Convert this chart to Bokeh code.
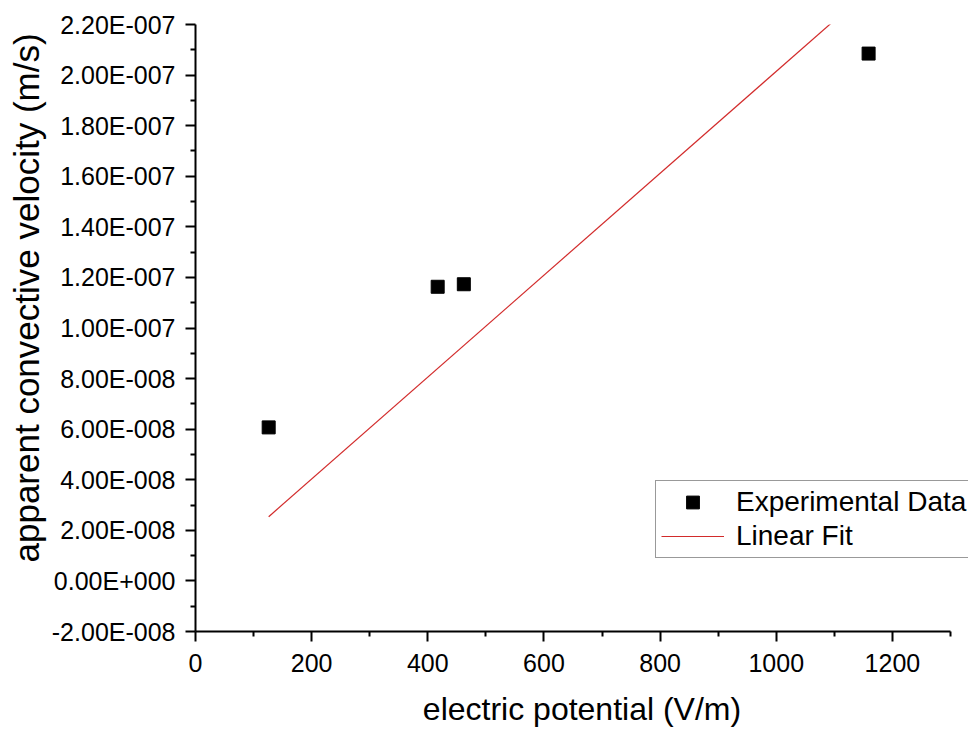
from bokeh.embed import file_html
from bokeh.models import (CustomJSTickFormatter, FixedTicker, Legend,
                          LegendItem, Range1d, Title)
from bokeh.plotting import figure
from bokeh.resources import INLINE

# Measured points: electric potential (V/m) vs apparent convective velocity (m/s)
field_strength = [126, 417, 462, 1159]
velocity = [6.07e-8, 1.163e-7, 1.173e-7, 2.085e-7]

# Linear fit line (end points over the data span)
fit_x = [126, 1159]
fit_y = [2.54e-8, 2.335e-7]

# Axis ticks and labels
x_ticks = [0, 200, 400, 600, 800, 1000, 1200]
x_minor = [100, 300, 500, 700, 900, 1100, 1300]
y_ticks = [-2e-8, 0.0, 2e-8, 4e-8, 6e-8, 8e-8, 1e-7, 1.2e-7, 1.4e-7,
           1.6e-7, 1.8e-7, 2e-7, 2.2e-7]
y_tick_labels = ["-2.00E-008", "0.00E+000", "2.00E-008", "4.00E-008",
                 "6.00E-008", "8.00E-008", "1.00E-007", "1.20E-007",
                 "1.40E-007", "1.60E-007", "1.80E-007", "2.00E-007",
                 "2.20E-007"]
y_minor = [-1e-8, 1e-8, 3e-8, 5e-8, 7e-8, 9e-8, 1.1e-7, 1.3e-7, 1.5e-7,
           1.7e-7, 1.9e-7, 2.1e-7]

X_MIN, X_MAX = 0, 1300
Y_MIN, Y_MAX = -2e-8, 2.2e-7
FONT = "Liberation Sans"

# The frame runs to the right edge so the legend box may overhang the axis end;
# the x axis itself is bounded to 0..1300.
p = figure(width=968, height=729, output_backend="svg", toolbar_location=None,
           x_range=Range1d(X_MIN, 1331), y_range=Range1d(Y_MIN, Y_MAX),
           min_border_left=195, min_border_right=0, min_border_top=24,
           min_border_bottom=97)
p.grid.visible = False
p.outline_line_color = None
p.background_fill_color = "white"
p.border_fill_color = "white"

xa = p.xaxis[0]
ya = p.yaxis[0]
xa.bounds = (X_MIN, X_MAX)
xa.ticker = FixedTicker(ticks=x_ticks, minor_ticks=x_minor)
ya.ticker = FixedTicker(ticks=y_ticks, minor_ticks=y_minor)
ya.formatter = CustomJSTickFormatter(
    args=dict(vals=y_ticks, labs=y_tick_labels),
    code="""
    let best = 0;
    for (let i = 0; i < vals.length; i++) {
        if (Math.abs(vals[i] - tick) < Math.abs(vals[best] - tick)) best = i;
    }
    return labs[best];
""")

for ax in (xa, ya):
    ax.axis_line_color = "black"
    ax.axis_line_width = 2
    ax.major_tick_line_color = "black"
    ax.minor_tick_line_color = "black"
    ax.major_tick_line_width = 2
    ax.minor_tick_line_width = 2
    ax.major_tick_in = 0
    ax.major_tick_out = 10
    ax.minor_tick_in = 0
    ax.minor_tick_out = 5
    ax.major_label_text_font = FONT
    ax.major_label_text_font_size = "25px"
    ax.major_label_text_color = "black"

ya.major_label_standoff = 10
xa.major_label_standoff = 12

xa.axis_label = "electric potential (V/m)"
xa.axis_label_text_font = FONT
xa.axis_label_text_font_size = "32px"
xa.axis_label_text_font_style = "normal"
xa.axis_label_text_color = "black"
xa.axis_label_standoff = 16

# Vertical axis title, set beside the tick labels
p.add_layout(Title(text="apparent convective velocity (m/s)", align="left",
                   offset=69, standoff=6, text_font=FONT,
                   text_font_size="35px", text_font_style="normal",
                   text_color="black"), "left")

fit = p.line(fit_x, fit_y, line_color="#d22b2b", line_width=1.2)
pts = p.scatter(field_strength, velocity, marker="square", size=13,
                fill_color="black", line_color="black")

legend = Legend(items=[LegendItem(label="Experimental Data", renderers=[pts]),
                       LegendItem(label="Linear Fit", renderers=[fit])],
                location=(460, 73), margin=0, padding=5, spacing=2,
                glyph_width=63, glyph_height=32, label_height=32,
                label_standoff=12, label_text_font=FONT,
                label_text_font_size="28px", label_text_color="black",
                border_line_color="#333333", border_line_width=1,
                background_fill_color="white", background_fill_alpha=1.0)
p.add_layout(legend)

open("out.html", "w").write(file_html(p, INLINE))
